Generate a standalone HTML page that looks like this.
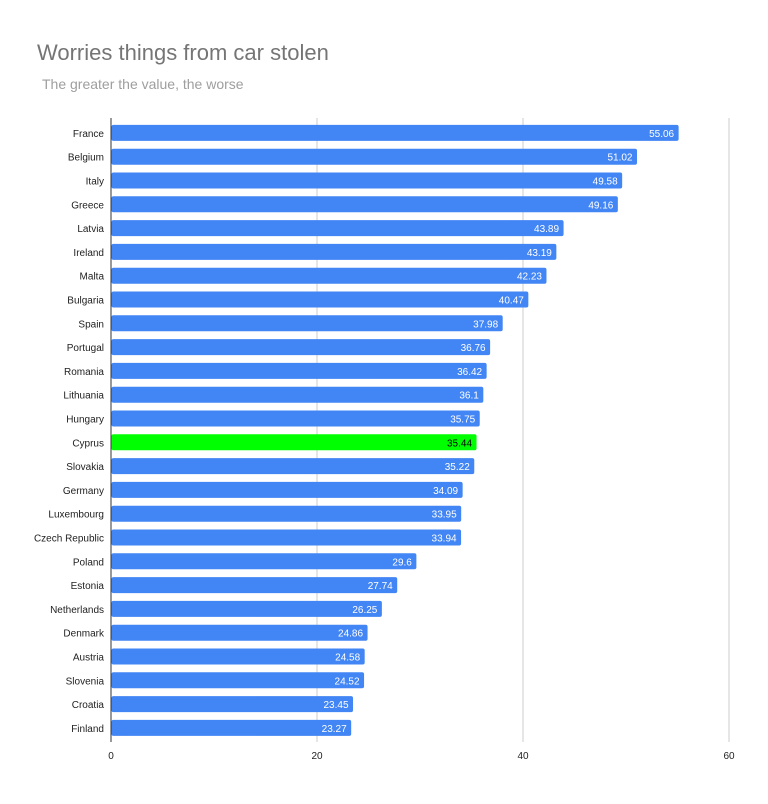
<!DOCTYPE html>
<html><head><meta charset="utf-8"><style>
body{margin:0;background:#fff;font-family:"Liberation Sans",Arial,sans-serif;}
svg text{font-family:"Liberation Sans",Arial,sans-serif;}
</style></head><body>
<svg id="chart" width="768" height="799">
<rect width="768" height="799" fill="#fff"/>
<text x="37" y="60" font-size="22" fill="#757575">Worries things from car stolen</text>
<text x="42" y="89" font-size="14" fill="#9e9e9e">The greater the value, the worse</text>
<g id="grid"></g><g id="bars"></g>
</svg>
<script>
const categories=["France","Belgium","Italy","Greece","Latvia","Ireland","Malta","Bulgaria","Spain","Portugal","Romania","Lithuania","Hungary","Cyprus","Slovakia","Germany","Luxembourg","Czech Republic","Poland","Estonia","Netherlands","Denmark","Austria","Slovenia","Croatia","Finland"];
const values=[55.06,51.02,49.58,49.16,43.89,43.19,42.23,40.47,37.98,36.76,36.42,36.1,35.75,35.44,35.22,34.09,33.95,33.94,29.6,27.74,26.25,24.86,24.58,24.52,23.45,23.27];
const labels=["55.06","51.02","49.58","49.16","43.89","43.19","42.23","40.47","37.98","36.76","36.42","36.1","35.75","35.44","35.22","34.09","33.95","33.94","29.6","27.74","26.25","24.86","24.58","24.52","23.45","23.27"];
const ticks=[0,20,40,60];
const highlight="Cyprus";
const NS="http://www.w3.org/2000/svg";
const x0=111,x60=729,yTop=121,step=23.8,bh=16;
const xs=v=>x0+(v/60)*(x60-x0);
const yc=i=>yTop+step*i+step/2;
function mk(t,a,p){const e=document.createElementNS(NS,t);for(const k in a)e.setAttribute(k,a[k]);p.appendChild(e);return e;}
const grid=document.getElementById('grid'),bars=document.getElementById('bars');
ticks.forEach(t=>{
 const l=mk('line',{x1:xs(t),x2:xs(t),y1:118,y2:742,stroke:t===0?'#333':'#ccc','stroke-width':1},grid);
 
 
 const tx=mk('text',{x:xs(t),y:759,'font-size':10,'text-anchor':'middle',fill:'#222'},grid);
 tx.textContent=t;
 
 
});
categories.forEach((c,i)=>{
 const y=yc(i);
 const r=mk('rect',{x:x0+0.5,y:y-bh/2,width:xs(values[i])-x0,height:bh,rx:2,fill:c===highlight?'#00ff00':'#4285f4'},bars);
 
 
 const n=mk('text',{x:104,y:y+4,'font-size':10,'text-anchor':'end',fill:'#222'},bars);
 n.textContent=c;
 
 
 const v=mk('text',{x:xs(values[i])-4,y:y+4,'font-size':10,'text-anchor':'end',fill:c===highlight?'#000':'#fff'},bars);
 v.textContent=labels[i];
 
 
});
</script>
</body></html>
